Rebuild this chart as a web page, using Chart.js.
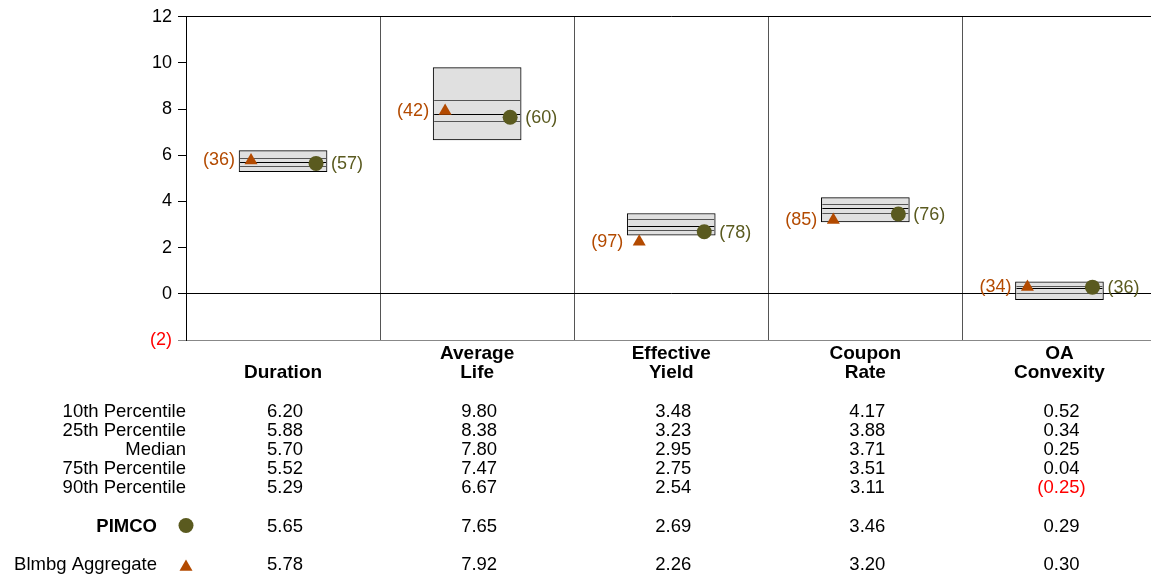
<!DOCTYPE html>
<html>
<head>
<meta charset="utf-8">
<script src="https://cdn.jsdelivr.net/npm/chart.js@4.4.1/dist/chart.umd.min.js"></script>
<style>
  html, body { margin: 0; padding: 0; background: #fff; overflow: hidden; }
  canvas { display: block; }
</style>
</head>
<body>
<canvas id="chart" width="1164" height="575"></canvas>
<script>
const categories = [['Duration'], ['Average', 'Life'], ['Effective', 'Yield'], ['Coupon', 'Rate'], ['OA', 'Convexity']];
const pct10 = [6.20, 9.80, 3.48, 4.17, 0.52];
const pct25 = [5.88, 8.38, 3.23, 3.88, 0.34];
const median = [5.70, 7.80, 2.95, 3.71, 0.25];
const pct75 = [5.52, 7.47, 2.75, 3.51, 0.04];
const pct90 = [5.29, 6.67, 2.54, 3.11, -0.25];
const pimco = [5.65, 7.65, 2.69, 3.46, 0.29];
const bench = [5.78, 7.92, 2.26, 3.20, 0.30];
const pimcoRank = [57, 60, 78, 76, 36];
const benchRank = [36, 42, 97, 85, 34];
const rowNames = ['10th Percentile', '25th Percentile', 'Median', '75th Percentile', '90th Percentile'];
const yTicks = [-2, 0, 2, 4, 6, 8, 10, 12];

const OLIVE = '#5a5a1f';
const ORANGE = '#b34a00';
const FONT = '"Liberation Sans", Arial, sans-serif';

function fmt(v) {
  return v < 0 ? '(' + Math.abs(v).toFixed(2) + ')' : v.toFixed(2);
}

function drawTriangle(ctx, x, y, r) {
  ctx.beginPath();
  ctx.moveTo(x, y - r);
  ctx.lineTo(x - r * Math.sin(Math.PI / 3), y + r / 2);
  ctx.lineTo(x + r * Math.sin(Math.PI / 3), y + r / 2);
  ctx.closePath();
  ctx.fill();
}

// quartile + median lines inside each box
const boxLines = {
  id: 'boxLines',
  afterDatasetDraw(chart, args) {
    if (args.index !== 0) return;
    const ctx = chart.ctx;
    const y = chart.scales.y;
    ctx.save();
    ctx.lineWidth = 1;
    args.meta.data.forEach((bar, i) => {
      const x0 = bar.x - bar.width / 2 + 1;
      const x1 = bar.x + bar.width / 2 - 1;
      [[pct25[i], '#555'], [median[i], '#000'], [pct75[i], '#555']].forEach(([v, c]) => {
        const py = Math.round(y.getPixelForValue(v)) + 0.5;
        ctx.strokeStyle = c;
        ctx.beginPath();
        ctx.moveTo(x0, py);
        ctx.lineTo(x1, py);
        ctx.stroke();
      });
    });
    ctx.restore();
  }
};

// rank labels next to markers
const rankLabels = {
  id: 'rankLabels',
  afterDatasetsDraw(chart) {
    const ctx = chart.ctx;
    ctx.save();
    ctx.font = '18px ' + FONT;
    ctx.textBaseline = 'middle';
    chart.getDatasetMeta(1).data.forEach((p, i) => {
      ctx.fillStyle = OLIVE;
      ctx.textAlign = 'left';
      ctx.fillText('(' + pimcoRank[i] + ')', p.x + 15, p.y + 1);
    });
    chart.getDatasetMeta(2).data.forEach((p, i) => {
      ctx.fillStyle = ORANGE;
      ctx.textAlign = 'right';
      ctx.fillText('(' + benchRank[i] + ')', p.x - 16, p.y);
    });
    ctx.restore();
  }
};

// table of values under the chart
const table = {
  id: 'table',
  afterDraw(chart) {
    const ctx = chart.ctx;
    const x = chart.scales.x;
    const left = chart.chartArea.left;
    ctx.save();
    ctx.textBaseline = 'alphabetic';
    ctx.fillStyle = '#000';
    ctx.font = 'bold 19px ' + FONT;
    ctx.textAlign = 'center';
    categories.forEach((lines, i) => {
      const cx = x.getPixelForValue(i);
      lines.forEach((t, j) => {
        ctx.fillText(t, cx, 378 - (lines.length - 1 - j) * 19);
      });
    });

    ctx.font = '18.5px ' + FONT;
    const rows = [pct10, pct25, median, pct75, pct90];
    const rowY = [417, 436, 455, 474, 493];
    rows.forEach((vals, r) => {
      ctx.textAlign = 'right';
      ctx.fillStyle = '#000';
      ctx.fillText(rowNames[r], left, rowY[r]);
      ctx.textAlign = 'center';
      vals.forEach((v, i) => {
        ctx.fillStyle = v < 0 ? '#ff0000' : '#000';
        ctx.fillText(fmt(v), x.getPixelForValue(i) + 2, rowY[r]);
      });
    });

    [[pimco, 'PIMCO', 532, true], [bench, 'Blmbg Aggregate', 570, false]].forEach(([vals, name, by, bold]) => {
      ctx.font = (bold ? 'bold ' : '') + '18.5px ' + FONT;
      ctx.textAlign = 'right';
      ctx.fillStyle = '#000';
      ctx.fillText(name, 157, by);
      ctx.font = '18.5px ' + FONT;
      ctx.textAlign = 'center';
      vals.forEach((v, i) => {
        ctx.fillStyle = v < 0 ? '#ff0000' : '#000';
        ctx.fillText(fmt(v), x.getPixelForValue(i) + 2, by);
      });
    });

    ctx.fillStyle = OLIVE;
    ctx.beginPath();
    ctx.arc(186, 525.5, 7.5, 0, Math.PI * 2);
    ctx.fill();
    ctx.fillStyle = ORANGE;
    drawTriangle(ctx, 186, 567, 7.5);
    ctx.restore();
  }
};

new Chart(document.getElementById('chart'), {
  type: 'bar',
  data: {
    datasets: [
      {
        type: 'bar',
        data: pct10.map((v, i) => ({ x: i, y: [pct90[i], v] })),
        backgroundColor: '#e0e0e0',
        borderColor: '#000',
        borderWidth: 1,
        borderSkipped: false,
        barThickness: 88,
        order: 3
      },
      {
        type: 'scatter',
        data: pimco.map((v, i) => ({ x: i + 0.17, y: v })),
        pointStyle: 'circle',
        pointRadius: 7.5,
        pointBackgroundColor: OLIVE,
        pointBorderWidth: 0,
        order: 1
      },
      {
        type: 'scatter',
        data: bench.map((v, i) => ({ x: i - 0.165, y: v })),
        pointStyle: 'triangle',
        pointRadius: 7.5,
        pointBackgroundColor: ORANGE,
        pointBorderWidth: 0,
        order: 2
      }
    ]
  },
  options: {
    responsive: false,
    animation: false,
    devicePixelRatio: 1,
    layout: { padding: { left: 0, top: 14, right: 4, bottom: 235 } },
    plugins: { legend: { display: false }, tooltip: { enabled: false } },
    scales: {
      x: {
        type: 'linear',
        offset: false,
        min: -0.5,
        max: 4.5,
        afterBuildTicks: s => { s.ticks = [-0.5, 0.5, 1.5, 2.5, 3.5, 4.5].map(v => ({ value: v })); },
        afterFit: s => { s.height = 0; },
        ticks: { display: false },
        grid: { color: '#555', drawTicks: false, offset: false },
        border: { display: true, color: '#888' }
      },
      y: {
        min: -2,
        max: 12,
        afterBuildTicks: s => { s.ticks = yTicks.map(v => ({ value: v })); },
        afterFit: s => { s.width = 186; },
        ticks: {
          padding: 6,
          font: { family: FONT, size: 18 },
          color: c => c.tick.value < 0 ? '#ff0000' : '#000',
          callback: v => v < 0 ? '(' + Math.abs(v) + ')' : String(v)
        },
        grid: {
          tickLength: 8,
          color: c => c.tick.value === 0 || c.tick.value === 12 ? '#000' : (c.tick.value === -2 ? '#888' : 'rgba(0,0,0,0)'),
          tickColor: c => c.tick.value === -2 ? '#888' : '#000'
        },
        border: { color: '#000' }
      }
    }
  },
  plugins: [boxLines, rankLabels, table]
});
</script>
</body>
</html>
